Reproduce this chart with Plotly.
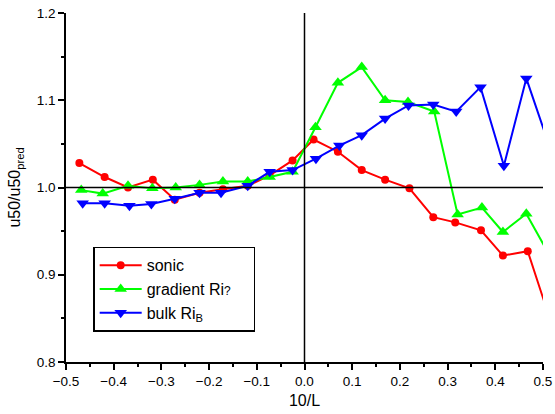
import plotly.graph_objects as go

# data
sonic_x = [-0.472, -0.419, -0.370, -0.318, -0.272, -0.220, -0.171, -0.119, -0.073, -0.025,
           0.019, 0.070, 0.120, 0.169, 0.220, 0.270, 0.316, 0.370, 0.416, 0.468, 0.520]
sonic_y = [1.028, 1.012, 1.000, 1.009, 0.986, 0.994, 0.998, 1.002, 1.014, 1.031,
           1.055, 1.041, 1.020, 1.009, 0.999, 0.966, 0.960, 0.951, 0.922, 0.927, 0.840]

grad_x = [-0.468, -0.423, -0.370, -0.319, -0.270, -0.220, -0.171, -0.119, -0.073, -0.025,
          0.023, 0.070, 0.120, 0.169, 0.217, 0.272, 0.321, 0.372, 0.416, 0.465, 0.520]
grad_y = [0.997, 0.993, 1.002, 0.999, 1.000, 1.003, 1.007, 1.007, 1.012, 1.018,
          1.069, 1.120, 1.138, 1.100, 1.098, 1.087, 0.969, 0.977, 0.949, 0.970, 0.916]

bulk_x = [-0.465, -0.419, -0.367, -0.321, -0.272, -0.220, -0.175, -0.119, -0.073, -0.025,
          0.024, 0.073, 0.120, 0.169, 0.218, 0.270, 0.318, 0.369, 0.418, 0.465, 0.520]
bulk_y = [0.982, 0.982, 0.979, 0.981, 0.987, 0.994, 0.994, 1.002, 1.018, 1.020,
          1.033, 1.048, 1.060, 1.079, 1.094, 1.095, 1.087, 1.115, 1.025, 1.125, 1.037]

series_names = ["sonic",
                "gradient Ri<span style='font-size:12px'>?</span>&nbsp;&nbsp;&nbsp;&nbsp;",
                "bulk Ri<sub>B</sub>"]

FONT = "Liberation Sans, Arial, sans-serif"

fig = go.Figure()
fig.add_trace(go.Scatter(x=sonic_x, y=sonic_y, mode="lines+markers", name=series_names[0],
                         line=dict(color="#ff0000", width=2),
                         marker=dict(symbol="circle", size=8, color="#ff0000")))
fig.add_trace(go.Scatter(x=grad_x, y=grad_y, mode="lines+markers", name=series_names[1],
                         line=dict(color="#00ff00", width=2),
                         marker=dict(symbol="triangle-up", size=11, color="#00ff00")))
fig.add_trace(go.Scatter(x=bulk_x, y=bulk_y, mode="lines+markers", name=series_names[2],
                         line=dict(color="#0000ff", width=2),
                         marker=dict(symbol="triangle-down", size=11, color="#0000ff")))

# reference lines at x = 0 and y = 1
fig.add_shape(type="line", xref="x", yref="paper", x0=0, x1=0, y0=0, y1=1,
              line=dict(color="black", width=1.5), layer="above")
fig.add_shape(type="line", xref="paper", yref="y", x0=0, x1=1, y0=1.0, y1=1.0,
              line=dict(color="black", width=1.5), layer="above")

fig.update_layout(
    width=555, height=414,
    margin=dict(l=66, r=12, t=13, b=52),
    paper_bgcolor="white", plot_bgcolor="white",
    font=dict(family=FONT, color="black", size=12),
    showlegend=True,
    legend=dict(x=0.057, y=0.33, xanchor="left", yanchor="top",
                bordercolor="black", borderwidth=1.5, bgcolor="white",
                font=dict(size=16, family=FONT), itemwidth=42,
                tracegroupgap=0),
    xaxis=dict(range=[-0.5, 0.5], showgrid=False, zeroline=False, automargin=False,
               showline=True, linecolor="black", linewidth=1.5,
               ticks="outside", ticklen=6, tickwidth=1.5, tickcolor="black",
               tick0=-0.5, dtick=0.1, tickformat=".1f",
               tickfont=dict(size=13.5, family=FONT),
               minor=dict(ticks="outside", ticklen=3, tickwidth=1.5, tickcolor="black",
                          dtick=0.05, showgrid=False),
               title=dict(text="10/L", font=dict(size=16, family=FONT), standoff=7)),
    yaxis=dict(range=[0.8, 1.2], showgrid=False, zeroline=False, automargin=False,
               showline=True, linecolor="black", linewidth=1.5,
               ticks="outside", ticklen=6, tickwidth=1.5, tickcolor="black",
               tick0=0.8, dtick=0.1, tickformat=".1f",
               tickfont=dict(size=13.5, family=FONT),
               minor=dict(ticks="outside", ticklen=3, tickwidth=1.5, tickcolor="black",
                          dtick=0.05, showgrid=False),
               title=dict(text="u50/u50<sub>pred</sub>", font=dict(size=16, family=FONT),
                          standoff=12)),
)

fig.write_html("out.html", config={"displayModeBar": False},
               post_script="document.body.style.margin='0';")
